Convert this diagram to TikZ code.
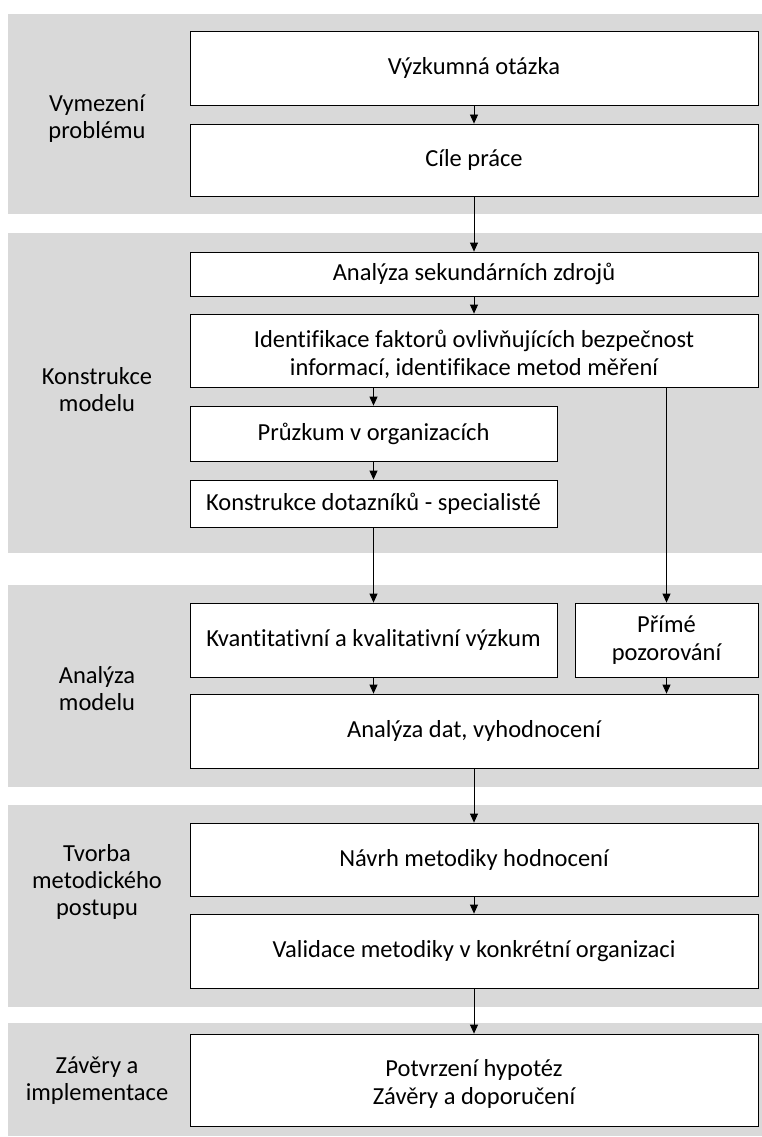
\documentclass[tikz,border=0pt]{standalone}
\usepackage{fontspec}
\setmainfont{Carlito}[Ligatures=NoCommon]
\usetikzlibrary{arrows.meta}
% taller first-line strut, centres two-line box text a little lower
\newcommand\firststrut{\rule{0pt}{25pt}}
\begin{document}
\begin{tikzpicture}[x=1pt,y=-1pt,
  band/.style={fill=bandgray, draw=none},
  box/.style={draw=black, line width=0.8pt, fill=white, align=center,
    inner sep=0pt, font=\fontsize{24.5}{27.5}\selectfont},
  phase/.style={align=center, font=\fontsize{24.5}{27}\selectfont},
  arr/.style={line width=0.8pt, -{Triangle[length=9pt,width=8pt]}}]
\definecolor{bandgray}{HTML}{D9D9D9}
\useasboundingbox (0,0) rectangle (762,1137);

% phase bands
\fill[band] (8,14)   rectangle (762,214);
\fill[band] (8,233)  rectangle (762,553);
\fill[band] (8,585)  rectangle (762,787);
\fill[band] (8,805)  rectangle (762,1007);
\fill[band] (8,1023) rectangle (762,1136);

% phase labels
\node[phase] (p1) at (97,119)  {Vymezení\\problému};
\node[phase] (p2) at (97,390)  {Konstrukce\\modelu};
\node[phase] (p3) at (97,689)  {Analýza\\modelu};
\node[phase] (p4) at (97,882)  {Tvorba\\metodického\\postupu};
\node[phase] (p5) at (97,1081) {Závěry a\\implementace};

% steps
\node[box, minimum width=568pt, minimum height=74pt] (b1) at (474,68)    {Výzkumná otázka};
\node[box, minimum width=568pt, minimum height=72pt] (b2) at (474,160)   {Cíle práce};
\node[box, minimum width=568pt, minimum height=44pt] (b3) at (474,274)   {Analýza sekundárních zdrojů};
\node[box, minimum width=568pt, minimum height=73pt] (b4) at (474,350.5) {\firststrut Identifikace faktorů ovlivňujících bezpečnost\\informací, identifikace metod měření};
\node[box, minimum width=367pt, minimum height=55pt] (b5) at (373.5,433.5) {Průzkum v organizacích};
\node[box, minimum width=367pt, minimum height=47pt] (b6) at (373.5,503.5) {Konstrukce dotazníků - specialisté};
\node[box, minimum width=367pt, minimum height=74pt] (b7) at (373.5,640)  {Kvantitativní a kvalitativní výzkum};
\node[box, minimum width=183pt, minimum height=74pt] (b8) at (666.5,640)  {Přímé\\pozorování};
\node[box, minimum width=568pt, minimum height=74pt] (b9) at (474,731)    {Analýza dat, vyhodnocení};
\node[box, minimum width=568pt, minimum height=73pt] (b10) at (474,859.5) {Návrh metodiky hodnocení};
\node[box, minimum width=568pt, minimum height=74pt] (b11) at (474,951)   {Validace metodiky v konkrétní organizaci};
\node[box, minimum width=568pt, minimum height=92pt] (b12) at (474,1080)  {\firststrut Potvrzení hypotéz\\Závěry a doporučení};

% connectors
\draw[arr] (b1) -- (b2);
\draw[arr] (b2) -- (b3);
\draw[arr] (b3) -- (b4);
\draw[arr] (b5.north |- b4.south) -- (b5.north);
\draw[arr] (b5) -- (b6);
\draw[arr] (b6) -- (b7);
\draw[arr] (b8.north |- b4.south) -- (b8.north);
\draw[arr] (b7.south) -- (b7.south |- b9.north);
\draw[arr] (b8.south) -- (b8.south |- b9.north);
\draw[arr] (b9) -- (b10);
\draw[arr] (b10) -- (b11);
\draw[arr] (b11) -- (b12);
\end{tikzpicture}
\end{document}
